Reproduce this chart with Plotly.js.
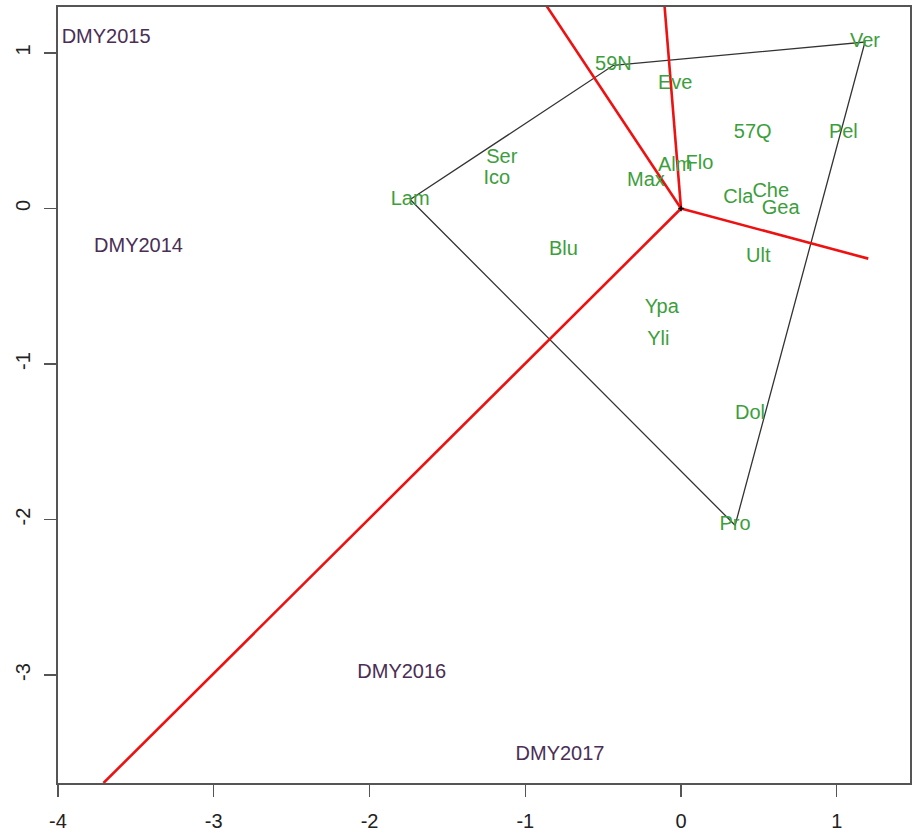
<!DOCTYPE html>
<html>
<head>
<meta charset="utf-8">
<script src="https://cdn.plot.ly/plotly-3.0.1.min.js"></script>
<style>html,body{margin:0;padding:0;background:#fff;}#chart{width:915px;height:834px;}</style>
</head>
<body>
<div id="chart"></div>
<script>
// Genotype (cultivar) scores on PC1 / PC2
const genoNames = ["Lam","59N","Ver","Pro","Eve","57Q","Pel","Ser","Ico","Alm","Flo","Max","Cla","Che","Gea","Blu","Ult","Ypa","Yli","Dol"];
const genoX = [-1.739,-0.434,1.181,0.347,-0.038,0.460,1.042,-1.151,-1.183,-0.038,0.118,-0.225,0.368,0.576,0.640,-0.755,0.496,-0.124,-0.146,0.443];
const genoY = [0.058,0.921,1.071,-2.037,0.799,0.489,0.489,0.328,0.188,0.274,0.285,0.176,0.068,0.107,-0.006,-0.264,-0.311,-0.637,-0.847,-1.318];

// Environment scores
const envNames = ["DMY2015","DMY2014","DMY2016","DMY2017"];
const envX = [-3.691,-3.483,-1.793,-0.777];
const envY = [1.097,-0.247,-2.986,-3.516];

// Convex hull (polygon) vertices, by genotype name
const hullNames = ["Lam","59N","Ver","Pro","Lam"];

// Sector-dividing rays from origin: end points
const rayEndX = [-1.06,-0.13,1.202,-3.708];
const rayEndY = [1.60,1.60,-0.322,-3.694];

const hullX = hullNames.map(n => genoX[genoNames.indexOf(n)]);
const hullY = hullNames.map(n => genoY[genoNames.indexOf(n)]);

const traces = [];
traces.push({type:"scatter", mode:"lines", x:hullX, y:hullY,
  line:{color:"#333333", width:1.3}, hoverinfo:"skip", showlegend:false});
rayEndX.forEach((ex,i) => {
  traces.push({type:"scatter", mode:"lines", x:[0,ex], y:[0,rayEndY[i]],
    line:{color:"#ee1111", width:2.6}, hoverinfo:"skip", showlegend:false});
});
traces.push({type:"scatter", mode:"markers", x:[0], y:[0],
  marker:{color:"#000", size:4, symbol:"cross-thin", line:{color:"#000", width:1.5}}, hoverinfo:"skip", showlegend:false});
traces.push({type:"scatter", mode:"text", x:genoX, y:genoY, text:genoNames,
  textposition:"middle center", textfont:{family:"Liberation Sans, Arial, sans-serif", size:20, color:"#3c9e3c"},
  cliponaxis:false, showlegend:false});
traces.push({type:"scatter", mode:"text", x:envX, y:envY, text:envNames,
  textposition:"middle center", textfont:{family:"Liberation Sans, Arial, sans-serif", size:20, color:"#4a2e55"},
  cliponaxis:false, showlegend:false});

const axisCommon = {
  showgrid:false, zeroline:false, showline:true, mirror:true,
  linecolor:"#555", linewidth:1.6, ticks:"outside", ticklen:12, tickwidth:1.4, tickcolor:"#555",
  tickfont:{family:"Liberation Sans, Arial, sans-serif", size:20, color:"#222"}
};

const layout = {
  width:915, height:834,
  margin:{l:58, r:5, t:7, b:51},
  paper_bgcolor:"#fff", plot_bgcolor:"#fff",
  xaxis:Object.assign({}, axisCommon, {range:[-4,1.47], tickvals:[-4,-3,-2,-1,0,1], ticktext:["-4","-3","-2","-1","0","1"], ticklabelstandoff:7}),
  yaxis:Object.assign({}, axisCommon, {range:[-3.694,1.296], tickvals:[-3,-2,-1,0,1], ticktext:["-3","-2","-1","0","1"], tickangle:-90, ticklabelstandoff:6}),
  showlegend:false
};

Plotly.newPlot("chart", traces, layout, {staticPlot:true});
</script>
</body>
</html>
